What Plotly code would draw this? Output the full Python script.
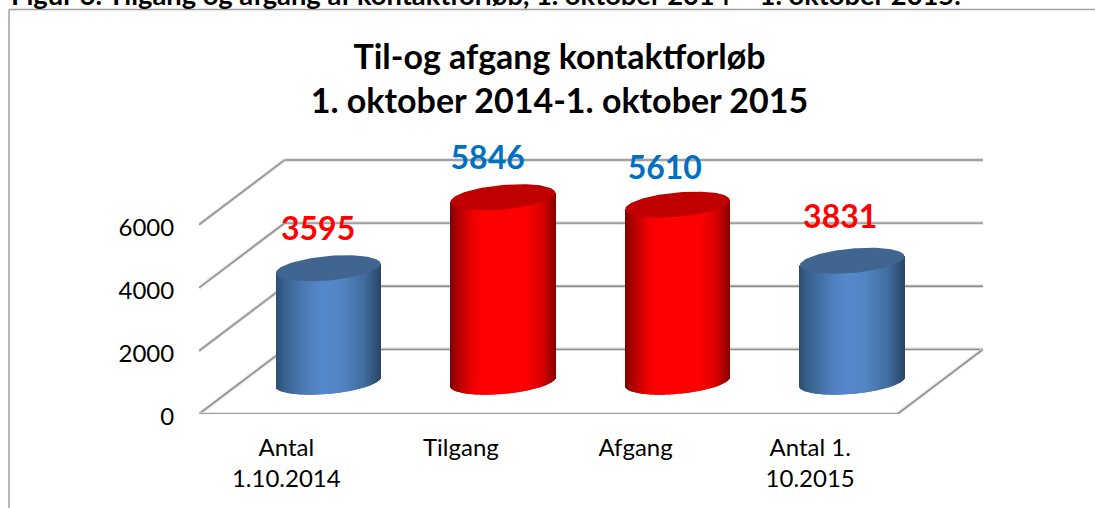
import numpy as np
import plotly.graph_objects as go

# ---- data ----
categories = ["Antal<br>1.10.2014", "Tilgang", "Afgang", "Antal 1.<br>10.2015"]
values = [3595, 5846, 5610, 3831]
y_ticks = [0, 2000, 4000, 6000]
title_lines = ["Til-og afgang kontaktforløb", "1. oktober 2014-1. oktober 2015"]
caption = "Figur 6: Tilgang og afgang af kontaktforløb, 1. oktober 2014 – 1. oktober 2015."

# ---- style / layout ----
W, H = 1095, 508
L, R, B = 198.5, 982.7, 414.0             # plot rectangle in px
BOX_TOP = 160.0                           # px of the back wall's top edge
T = 130.0                                 # plot top (room for the labels)
DX, DY = 0.49, 2048.0                     # chart depth in axis units
BAR_NUDGE_PX = -0.8
FONT = "Lato"
GRID = "#8c8c8c"
HALO = "#dcdcdc"
BLUE_STOPS = [(0, "#2b4c6f"), (.08, "#37608c"), (.3, "#4d7dba"), (.45, "#5588cb"),
              (.62, "#5385c5"), (.85, "#416d9f"), (1, "#294766")]
RED_STOPS = [(0, "#7e0000"), (.08, "#b30000"), (.22, "#f00000"), (.32, "#ff0000"),
             (.72, "#ff0000"), (.88, "#d80000"), (1, "#8a0000")]
bar_style = [("#3f6590", BLUE_STOPS), ("#c00000", RED_STOPS), ("#c00000", RED_STOPS), ("#3f6590", BLUE_STOPS)]
label_colors = ["#ff0000", "#0070c0", "#0070c0", "#ff0000"]
label_shift_px = [(-11, 36), (-16, 36), (-13.5, 34), (-12.7, 41)]

x_min, x_max = -0.5, 3.5 + DX
px_x = (R - L) / (x_max - x_min)
px_y = (B - BOX_TOP) / (6000 + DY)
y_min, y_max = 0, (B - T) / px_y
RX = 52.3 / px_x
RY = 12.2 / px_y
SHEAR = 4.5 / px_y


def hex2rgb(h):
    return np.array([int(h[i:i + 2], 16) for i in (1, 3, 5)], float)


def ramp(stops, f):
    pos = [s[0] for s in stops]
    rgb = np.array([hex2rgb(s[1]) for s in stops])
    c = [np.interp(f, pos, rgb[:, i]) for i in range(3)]
    return "rgb(%d,%d,%d)" % tuple(int(round(v)) for v in c)


fig = go.Figure()
n_strips = 105
for i, (v, (cap, stops)) in enumerate(zip(values, bar_style)):
    cx = i + DX / 2 + BAR_NUDGE_PX / px_x
    cy = DY / 2
    t = (np.arange(n_strips) + 0.5) / n_strips * 2 - 1
    bottom = cy - RY * np.sqrt(1 - t ** 2) + SHEAR * t
    top = cy + v + SHEAR * t
    fig.add_trace(go.Bar(
        x=cx + RX * t, y=top - bottom, base=bottom,
        width=2 * RX / n_strips,
        marker=dict(color=[ramp(stops, (a + 1) / 2) for a in t], line=dict(width=0)),
        showlegend=False, hoverinfo="skip"))
    a = np.linspace(0, 2 * np.pi, 121)
    fig.add_trace(go.Scatter(
        x=cx + RX * np.cos(a),
        y=cy + v + RY * np.sin(a) + SHEAR * np.cos(a),
        mode="lines", fill="toself", fillcolor=cap, line=dict(width=0, color=cap),
        showlegend=False, hoverinfo="skip"))

fig.add_trace(go.Scatter(
    x=[i + DX / 2 + s[0] / px_x for i, s in enumerate(label_shift_px)],
    y=[DY / 2 + v + s[1] / px_y for v, s in zip(values, label_shift_px)],
    mode="text", text=[str(v) for v in values],
    textposition="middle center",
    textfont=dict(family=FONT, size=32, color=label_colors, weight="bold"),
    cliponaxis=False, showlegend=False, hoverinfo="skip"))

# ---- 3-D box grid, from the y tick values ----
shapes = []
def seg(x0, y0, x1, y1):
    for col, w in ((HALO, 3.5), (GRID, 1.4)):
        shapes.append(dict(type="line", xref="x", yref="y", x0=x0, y0=y0, x1=x1, y1=y1,
                           layer="below", line=dict(color=col, width=w)))

for v in y_ticks:
    seg(x_min, v, x_min + DX, v + DY)
    seg(x_min + DX, v + DY, x_max, v + DY)
seg(x_min, 0, x_max - DX, 0)
seg(x_max - DX, 0, x_max, DY)

# frame of the picture (left and top edges)
pw = R - L
ph = B - T
def fx(p):
    return (p - L) / pw
def fy(p):
    return (B - p) / ph
frame = dict(color="#a0a0a0", width=1.5)
shapes.append(dict(type="line", xref="paper", yref="paper", x0=fx(8.5), x1=fx(8.5), y0=fy(9.5), y1=fy(H), line=frame))
shapes.append(dict(type="line", xref="paper", yref="paper", x0=fx(8.5), x1=fx(W), y0=fy(9.5), y1=fy(9.5), line=frame))

fig.update_layout(
    width=W, height=H, autosize=False,
    margin=dict(l=L, r=W - R, t=T, b=H - B, pad=0, autoexpand=False),
    paper_bgcolor="white", plot_bgcolor="rgba(0,0,0,0)",
    barmode="overlay", showlegend=False,
    font=dict(family=FONT, color="#000000"),
    shapes=shapes,
    title=dict(text="<br>".join(title_lines), x=(352 + 767) / 2 / W, xanchor="center",
               y=1 - 68.5 / H, yanchor="middle",
               font=dict(family=FONT, size=34, color="#000000", weight="bold")),
    xaxis=dict(range=[x_min, x_max], tickmode="array", tickvals=list(range(4)), ticktext=categories,
               showgrid=False, zeroline=False, showline=False, ticks="outside", ticklen=12,
               tickcolor="rgba(0,0,0,0)", tickfont=dict(family=FONT, size=24, color="#000000")),
    yaxis=dict(range=[y_min, y_max], tickmode="array", tickvals=y_ticks,
               showgrid=False, zeroline=False, showline=False, ticks="outside", ticklen=19,
               ticklabelshift=3,
               tickcolor="rgba(0,0,0,0)", tickfont=dict(family=FONT, size=24, color="#000000")),
    annotations=[dict(text="<b>" + caption + "</b>", xref="paper", yref="paper", x=fx(9), y=fy(12.5),
                      xanchor="left", yanchor="bottom", showarrow=False, borderpad=0,
                      font=dict(family=FONT, size=27.3, color="#000000"))],
)

fig.write_html("out.html", config={"displayModeBar": False},
               post_script="document.body.style.margin='0';document.body.style.overflow='hidden';")
